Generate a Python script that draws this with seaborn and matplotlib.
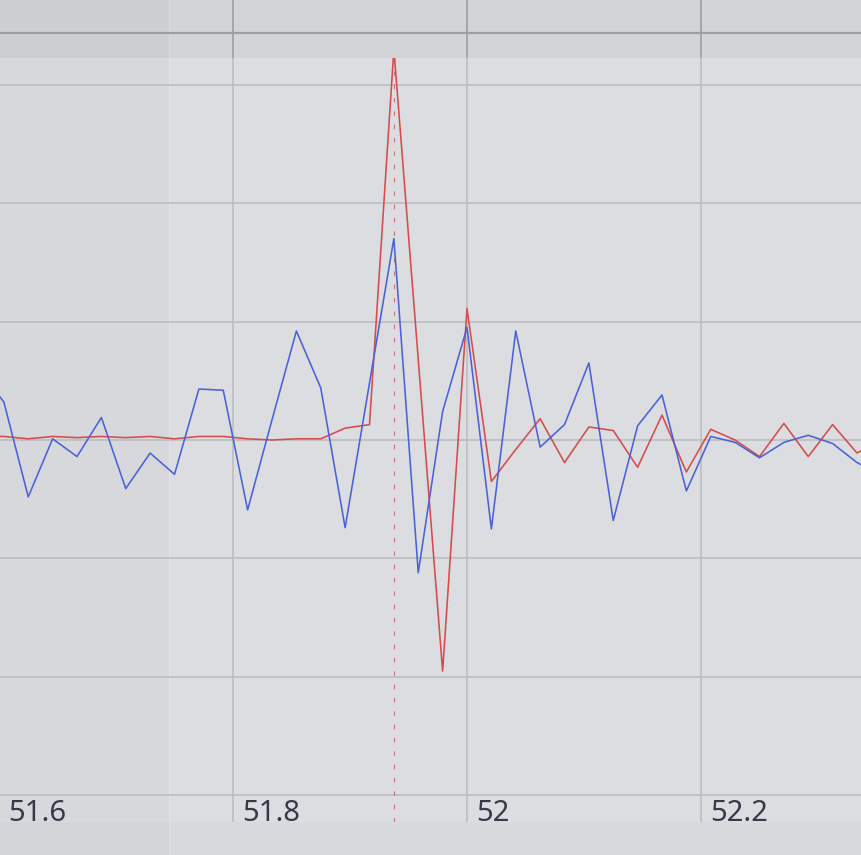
import numpy as np
import pandas as pd
import matplotlib
matplotlib.use("Agg")
import matplotlib.pyplot as plt
import seaborn as sns

# 파형 데이터 (48 Hz 샘플)
start_time = 51.58333
sample_rate = 48
blue_values = [0.59, 0.32, -0.48, 0.01, -0.14, 0.19, -0.41, -0.11, -0.29, 0.43,
               0.42, -0.59, 0.17, 0.92, 0.44, -0.74, 0.48, 1.70, -1.12, 0.24,
               0.95, -0.75, 0.92, -0.06, 0.13, 0.65, -0.68, 0.12, 0.38, -0.43,
               0.03, -0.02, -0.15, -0.02, 0.04, -0.03, -0.19, -0.30]
red_values = [0.03, 0.03, 0.01, 0.03, 0.02, 0.03, 0.02, 0.03, 0.01, 0.03,
              0.03, 0.01, 0.00, 0.01, 0.01, 0.10, 0.13, 3.30, 0.68, -1.95,
              1.11, -0.35, -0.08, 0.18, -0.19, 0.11, 0.08, -0.23, 0.21, -0.27,
              0.09, 0.00, -0.14, 0.14, -0.14, 0.13, -0.11, 0.00]

event_time = 51.9375      # 점선 표시 위치
shade_end = 51.7457       # 왼쪽 어두운 영역 끝
x_ticks = [51.6, 51.8, 52.0, 52.2]
x_tick_labels = ["51.6", "51.8", "52", "52.2"]
y_ticks = [-3, -2, -1, 0, 1, 2, 3]
x_range = (51.60085, 52.33675)
y_range = (-3.224, 3.224)


def build_frame():
    t = start_time + np.arange(len(blue_values)) / sample_rate
    df = pd.DataFrame({
        "time": np.concatenate([t, t]),
        "value": blue_values + red_values,
        "channel": ["blue"] * len(t) + ["red"] * len(t),
    })
    return df


def draw(df):
    sns.set_theme(style="white")
    plt.rcParams["font.family"] = ["Noto Sans", "DejaVu Sans"]

    fig = plt.figure(figsize=(8.61, 8.55), dpi=100)
    fig.patch.set_facecolor("#d9dadd")

    # 위 띠, 본 그래프, 아래 띠
    ax_top = fig.add_axes([0, 1 - 58 / 855, 1, 58 / 855])
    ax = fig.add_axes([0, 33 / 855, 1, 764 / 855], sharex=ax_top)
    ax_bot = fig.add_axes([0, 0, 1, 33 / 855], sharex=ax_top)

    ax_top.set_facecolor("#d3d4d8")
    ax.set_facecolor("#dcdde1")
    ax_bot.set_facecolor("#d9dadd")

    for a in (ax_top, ax, ax_bot):
        for s in a.spines.values():
            s.set_visible(False)
        a.tick_params(left=False, bottom=False, labelleft=False, labelbottom=False)
        a.axvspan(x_range[0] - 1, shade_end, color="#000000", alpha=0.018, lw=0, zorder=0.5)
        a.axvline(shade_end, color="white", alpha=0.15, lw=0.8, zorder=0.6)

    ax_top.set_ylim(0, 1)
    ax_top.set_yticks([])
    for xt in x_ticks:
        ax_top.axvline(xt, color="#a2a3a8", lw=1.3, zorder=1)
    ax_top.axhline(25 / 58, color="#9d9ea3", lw=1.6, zorder=2)

    ax_bot.set_yticks([])

    # 그리드
    ax.set_xticks(x_ticks)
    ax.set_yticks(y_ticks)
    ax.grid(True, color="#bcbdc1", lw=1.2)
    ax.set_axisbelow(True)

    sns.lineplot(data=df, x="time", y="value", hue="channel",
                 hue_order=["red", "blue"],
                 palette={"blue": "#4a62d8", "red": "#d64b4b"},
                 linewidth=1.15, legend=False, ax=ax)

    ax.axvline(event_time, color="#cc4b4b", lw=0.8, ls=(0, (4, 8)), alpha=0.75, zorder=1.5)

    ax.set_xlim(*x_range)
    ax.set_ylim(*y_range)
    ax.set_xlabel("")
    ax.set_ylabel("")

    # x 축 라벨 (그래프 안쪽, 격자선 오른쪽)
    for xt, lab in zip(x_ticks, x_tick_labels):
        ax.annotate(lab, xy=(xt, 0), xycoords=("data", "axes fraction"),
                    xytext=(9, 1.5), textcoords="offset pixels",
                    ha="left", va="baseline", fontsize=21, color="#343a48",
                    annotation_clip=False)

    fig.savefig("out.png", dpi=100, facecolor=fig.get_facecolor())


if __name__ == "__main__":
    df = build_frame()
    draw(df)
